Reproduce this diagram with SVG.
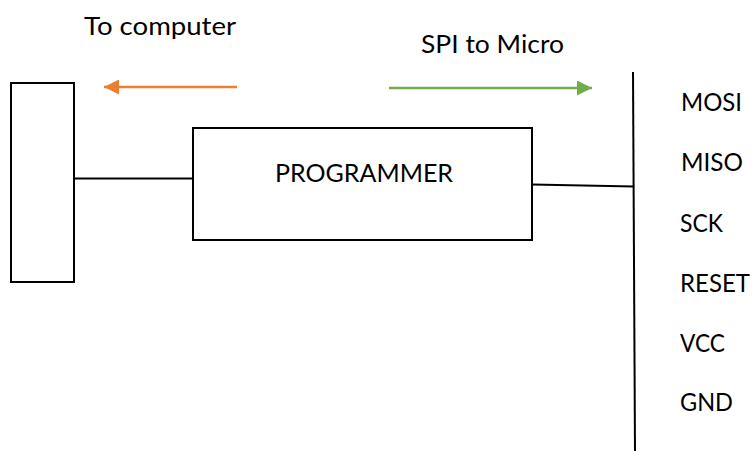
<svg xmlns="http://www.w3.org/2000/svg" width="752" height="451" viewBox="0 0 752 451">
  <style>
    .box { fill: #ffffff; stroke: #000000; stroke-width: 2; }
    .wire { fill: none; stroke: #000000; stroke-width: 2; }
    .label { font-family: Lato, "Liberation Sans", sans-serif; font-size: 25px; fill: #000000; }
    .flow-out { stroke: #ED7D31; stroke-width: 2.5; fill: none; }
    .flow-in { stroke: #70AD47; stroke-width: 2.5; fill: none; }
  </style>
  <defs>
    <marker id="head-orange" viewBox="0 0 10 10" refX="10" refY="5" markerWidth="6" markerHeight="6" markerUnits="strokeWidth" orient="auto">
      <path d="M0,0 L10,5 L0,10 Z" fill="#ED7D31"/>
    </marker>
    <marker id="head-green" viewBox="0 0 10 10" refX="10" refY="5" markerWidth="6" markerHeight="6" markerUnits="strokeWidth" orient="auto">
      <path d="M0,0 L10,5 L0,10 Z" fill="#70AD47"/>
    </marker>
  </defs>

  <rect width="752" height="451" fill="#ffffff"/>

  <!-- connectors -->
  <g id="connectors">
    <line class="wire" x1="75" y1="178.5" x2="193" y2="178.5"/>
    <line class="wire" x1="532" y1="184.5" x2="634" y2="186.5"/>
    <line class="flow-out" x1="237" y1="87" x2="104" y2="87" marker-end="url(#head-orange)"/>
    <line class="flow-in" x1="389" y1="88" x2="592" y2="88" marker-end="url(#head-green)"/>
  </g>

  <!-- computer port -->
  <g id="computer">
    <rect class="box" x="11" y="83" width="63" height="199"/>
  </g>

  <!-- programmer -->
  <g id="programmer">
    <rect class="box" x="193" y="128" width="339" height="112"/>
    <text class="label" x="275" y="182" textLength="178" lengthAdjust="spacingAndGlyphs">PROGRAMMER</text>
  </g>

  <!-- SPI bus to the microcontroller -->
  <g id="spi-bus">
    <line class="wire" x1="633" y1="72" x2="635" y2="451"/>
    <text class="label" x="681" y="111" textLength="61" lengthAdjust="spacingAndGlyphs">MOSI</text>
    <text class="label" x="681" y="171" textLength="62" lengthAdjust="spacingAndGlyphs">MISO</text>
    <text class="label" x="680" y="232" textLength="43" lengthAdjust="spacingAndGlyphs">SCK</text>
    <text class="label" x="680" y="292" textLength="70" lengthAdjust="spacingAndGlyphs">RESET</text>
    <text class="label" x="680" y="352" textLength="45" lengthAdjust="spacingAndGlyphs">VCC</text>
    <text class="label" x="680" y="411" textLength="53" lengthAdjust="spacingAndGlyphs">GND</text>
  </g>

  <!-- direction labels -->
  <g id="labels">
    <text class="label" x="84" y="35" textLength="152" lengthAdjust="spacingAndGlyphs">To computer</text>
    <text class="label" x="421" y="53" textLength="143" lengthAdjust="spacingAndGlyphs">SPI to Micro</text>
  </g>
</svg>
